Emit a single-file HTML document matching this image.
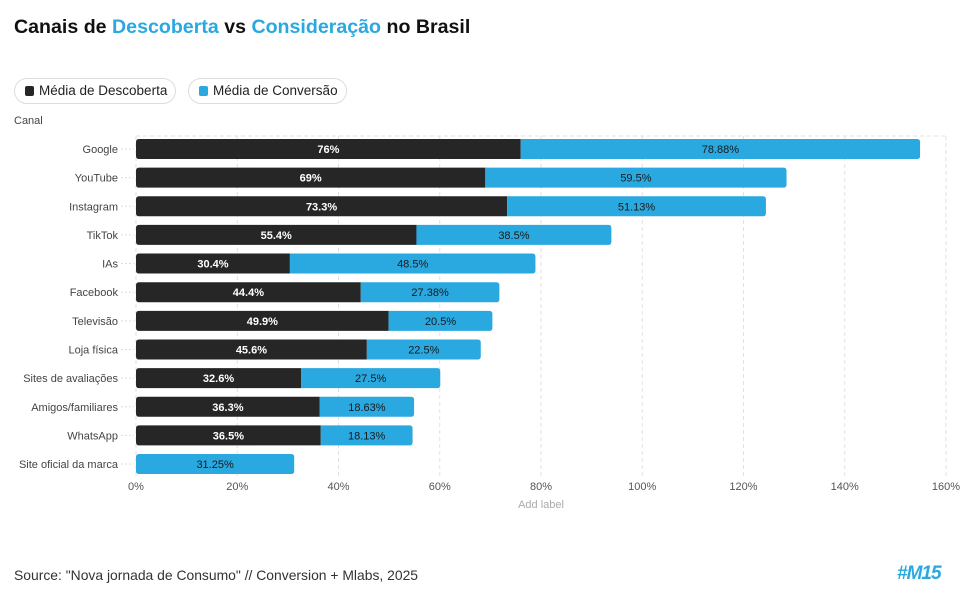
<!DOCTYPE html>
<html><head><meta charset="utf-8"><style>
body{margin:0;width:972px;height:608px;background:#fff;font-family:"Liberation Sans",sans-serif;overflow:hidden;position:relative}
.t{position:absolute;left:14px;top:16px;font-size:19.6px;font-weight:bold;color:#111}
.t span{color:#2aa8e0}
.leg{position:absolute;top:78px;height:24px;border:1px solid #ddd;border-radius:13px;font-size:13.5px;color:#222;line-height:24px;padding:0 8px 0 24px}
.leg i{position:absolute;left:10px;top:7px;width:9px;height:10px;border-radius:2px}
.src{position:absolute;left:14px;top:567px;font-size:13.9px;color:#333}
.logo{position:absolute;left:897px;top:563px;font-size:19px;font-weight:bold;font-style:italic;color:#2aa8e0;letter-spacing:-1px}
</style></head><body>
<div class="t">Canais de <span>Descoberta</span> vs <span>Consideração</span> no Brasil</div>
<div class="leg" style="left:14px"><i style="background:#262626"></i>Média de Descoberta</div>
<div class="leg" style="left:188px"><i style="background:#2aa8e0"></i>Média de Conversão</div>
<svg id="c" width="972" height="608" style="position:absolute;left:0;top:0"></svg>
<div class="src">Source: "Nova jornada de Consumo" // Conversion + Mlabs, 2025</div>
<div class="logo">#M15</div>
<script>
const categories=["Google","YouTube","Instagram","TikTok","IAs","Facebook","Televisão","Loja física","Sites de avaliações","Amigos/familiares","WhatsApp","Site oficial da marca"];
const descoberta=[76,69,73.3,55.4,30.4,44.4,49.9,45.6,32.6,36.3,36.5,0];
const conversao=[78.88,59.5,51.13,38.5,48.5,27.38,20.5,22.5,27.5,18.63,18.13,31.25];
const descLabels=["76%","69%","73.3%","55.4%","30.4%","44.4%","49.9%","45.6%","32.6%","36.3%","36.5%",""];
const convLabels=["78.88%","59.5%","51.13%","38.5%","48.5%","27.38%","20.5%","22.5%","27.5%","18.63%","18.13%","31.25%"];
const ticks=[0,20,40,60,80,100,120,140,160];
const NS="http://www.w3.org/2000/svg",svg=document.getElementById('c');
const x=v=>136+v*810/160, y=i=>149+i*28.64, bh=20, pTop=136, pBot=476;
function el(t,a,txt){const e=document.createElementNS(NS,t);for(const k in a)e.setAttribute(k,a[k]);if(txt!==undefined)e.textContent=txt;svg.appendChild(e);return e;}
function rr(x0,x1,yc,left,right){const r=3,t=yc-bh/2,b=yc+bh/2,rl=left?r:0,rR=right?r:0;
return `M${x0+rl},${t}H${x1-rR}${rR?`Q${x1},${t} ${x1},${t+rR}`:''}V${b-rR}${rR?`Q${x1},${b} ${x1-rR},${b}`:''}H${x0+rl}${rl?`Q${x0},${b} ${x0},${b-rl}`:''}V${t+rl}${rl?`Q${x0},${t} ${x0+rl},${t}`:''}Z`;}
ticks.forEach(v=>{const g=el('line',{x1:x(v),x2:x(v),y1:pTop,y2:pBot,stroke:'#e2e2e2','stroke-dasharray':'4 3'});
const t=el('text',{x:x(v),y:490,'font-size':11,fill:'#555','text-anchor':'middle'},v+'%');});
el('line',{x1:136,x2:946,y1:pTop,y2:pTop,stroke:'#e2e2e2','stroke-dasharray':'4 3'});
const at=el('text',{x:541,y:508,'font-size':11,fill:'#aaa','text-anchor':'middle'},'Add label');
const yt=el('text',{x:14,y:124,'font-size':11,fill:'#444'},'Canal');
categories.forEach((c,i)=>{const yc=y(i);
const l=el('text',{x:118,y:yc+4,'font-size':11,fill:'#444','text-anchor':'end'},c);
el('line',{x1:121,x2:134,y1:yc,y2:yc,stroke:'#ddd','stroke-dasharray':'2 2'});
const d=descoberta[i],cv=conversao[i];
if(d>0){const b=el('path',{d:rr(x(0),x(d),yc,true,false),fill:'#262626'});
const t=el('text',{x:(x(0)+x(d))/2,y:yc+4,'font-size':11,'font-weight':'bold',fill:'#fff','text-anchor':'middle'},descLabels[i]);}
const b2=el('path',{d:rr(x(d),x(d+cv),yc,d===0,true),fill:'#2aa8e0'});
const t2=el('text',{x:(x(d)+x(d+cv))/2,y:yc+4,'font-size':11,fill:'#1a1a1a','text-anchor':'middle'},convLabels[i]);});
</script>
</body></html>
